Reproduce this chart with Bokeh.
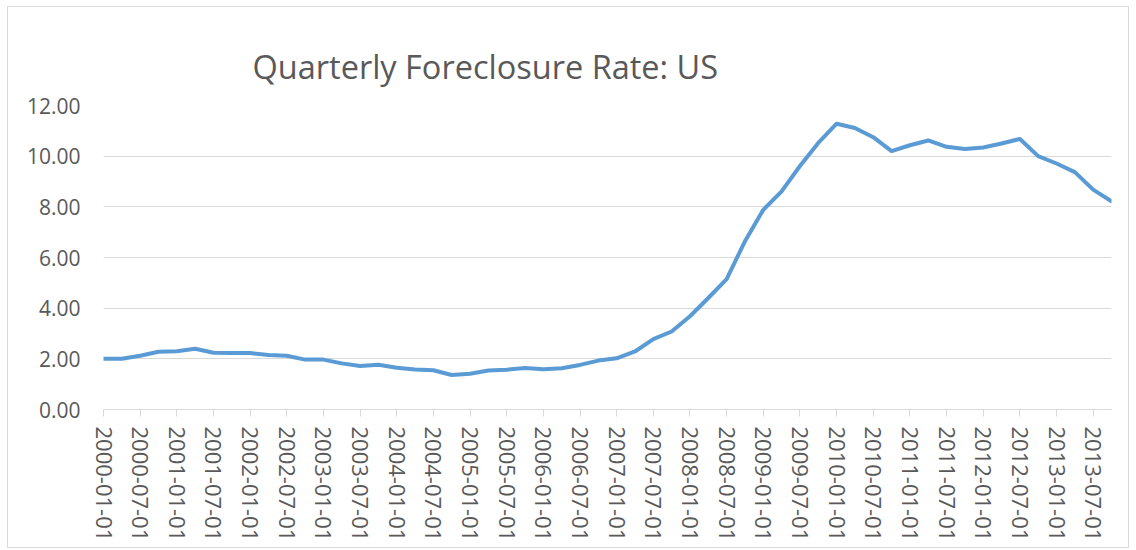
from bokeh.plotting import figure
from bokeh.models import Range1d, FixedTicker, Title, NumeralTickFormatter
from bokeh.embed import file_html
from bokeh.resources import INLINE

title_text = "Quarterly Foreclosure Rate: US"

tick_labels = [
    "2000-01-01", "2000-07-01", "2001-01-01", "2001-07-01", "2002-01-01", "2002-07-01",
    "2003-01-01", "2003-07-01", "2004-01-01", "2004-07-01", "2005-01-01", "2005-07-01",
    "2006-01-01", "2006-07-01", "2007-01-01", "2007-07-01", "2008-01-01", "2008-07-01",
    "2009-01-01", "2009-07-01", "2010-01-01", "2010-07-01", "2011-01-01", "2011-07-01",
    "2012-01-01", "2012-07-01", "2013-01-01", "2013-07-01",
]

rate = [
    2.00, 2.00, 2.12, 2.28, 2.30, 2.40, 2.24, 2.23, 2.23, 2.15,
    2.12, 1.97, 1.97, 1.82, 1.72, 1.77, 1.65, 1.58, 1.55, 1.36,
    1.41, 1.54, 1.57, 1.64, 1.59, 1.63, 1.76, 1.93, 2.02, 2.29,
    2.78, 3.08, 3.68, 4.40, 5.15, 6.64, 7.88, 8.61, 9.61, 10.52,
    11.28, 11.11, 10.75, 10.20, 10.43, 10.62, 10.37, 10.28, 10.34, 10.50,
    10.68, 10.00, 9.71, 9.37, 8.68, 8.22,
]

y_ticks = [0, 2, 4, 6, 8, 10, 12]

TEXT = "#595959"
GRID = "#d9d9d9"
FONT = "Open Sans"

x = list(range(len(rate)))
label_pos = [2 * i for i in range(len(tick_labels))]

p = figure(
    width=1122, height=542,
    output_backend="svg", toolbar_location=None,
    x_range=Range1d(0, len(rate) - 1), y_range=Range1d(0, 12),
    min_border_left=95, min_border_right=19, min_border_top=98, min_border_bottom=140,
)
p.styles = {"border": "1px solid #d9d9d9", "margin-left": "7px", "margin-top": "6px"}
p.outline_line_color = None
p.background_fill_color = "white"
p.border_fill_color = "white"

t = Title(text=title_text, align="left", offset=149, standoff=34,
          text_font=FONT, text_font_size="32.5px", text_font_style="normal",
          text_color=TEXT)
p.add_layout(t, "above")

p.line(x, rate, line_color="#5B9BD5", line_width=4, line_join="round", line_cap="round")

# x axis
xa = p.xaxis[0]
xa.ticker = FixedTicker(ticks=label_pos)
xa.major_label_overrides = {pos: lab for pos, lab in zip(label_pos, tick_labels)}
xa.major_label_orientation = "vertical"
xa.major_label_text_font = FONT
xa.major_label_text_font_size = "22px"
xa.major_label_text_color = TEXT
xa.axis_line_color = GRID
xa.major_tick_line_color = GRID
xa.major_tick_out = 7
xa.major_tick_in = 0
xa.minor_tick_line_color = None
xa.major_label_standoff = 10

# y axis
ya = p.yaxis[0]
ya.ticker = FixedTicker(ticks=y_ticks)
ya.formatter = NumeralTickFormatter(format="0.00")
ya.major_label_text_font = FONT
ya.major_label_text_font_size = "21px"
ya.major_label_text_color = TEXT
ya.axis_line_color = None
ya.major_tick_line_color = None
ya.minor_tick_line_color = None
ya.major_tick_out = 0
ya.major_label_standoff = 23

p.xgrid.grid_line_color = None
p.ygrid.ticker = FixedTicker(ticks=y_ticks)
p.ygrid.grid_line_color = GRID
p.ygrid.grid_line_width = 1

open("out.html", "w").write(file_html(p, INLINE))
